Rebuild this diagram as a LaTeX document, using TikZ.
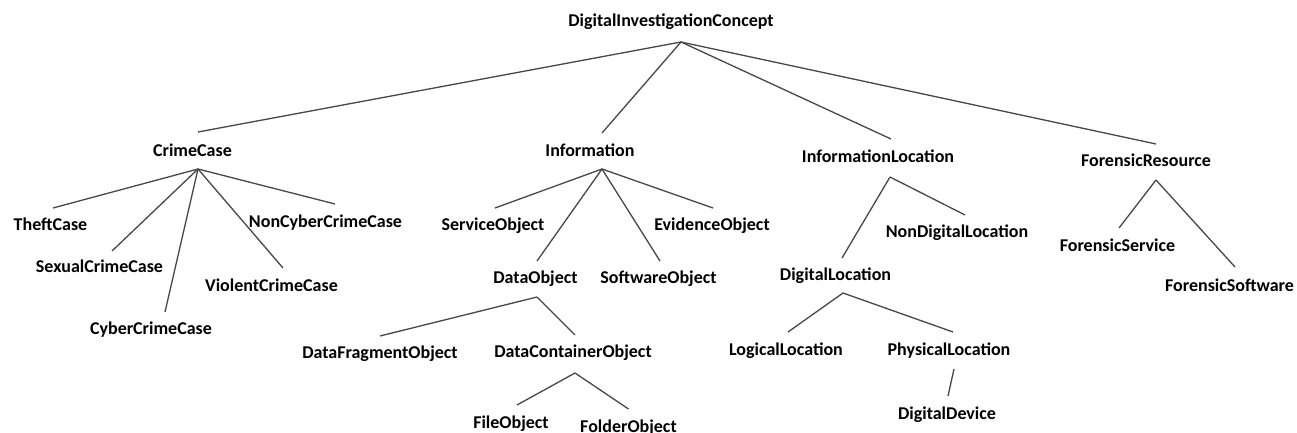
\documentclass[tikz,border=0pt]{standalone}
\usepackage{fontspec}
\setmainfont{Carlito}
\begin{document}
\begin{tikzpicture}[x=1pt,y=-1pt,
  lbl/.style={inner sep=0pt,text height=12pt,text depth=4pt,font=\fontsize{18}{20}\selectfont\bfseries},
  edge/.style={draw=black!72,line width=1.3pt}]
\useasboundingbox (0,0) rectangle (1297,433);
% nodes
\node[lbl] (root) at (671,23) {DigitalInvestigationConcept};
\node[lbl] (crime) at (192.5,152) {CrimeCase};
\node[lbl] (info) at (590,152) {Information};
\node[lbl] (infoloc) at (878,158) {InformationLocation};
\node[lbl] (forres) at (1146,162) {ForensicResource};
\node[lbl] (theft) at (50.5,226) {TheftCase};
\node[lbl] (sexual) at (99.5,268) {SexualCrimeCase};
\node[lbl] (cyber) at (151,330) {CyberCrimeCase};
\node[lbl] (violent) at (271.5,287) {ViolentCrimeCase};
\node[lbl] (noncyber) at (325.5,223) {NonCyberCrimeCase};
\node[lbl] (service) at (493,226) {ServiceObject};
\node[lbl] (dataobj) at (535.5,279) {DataObject};
\node[lbl] (software) at (658.5,279) {SoftwareObject};
\node[lbl] (evidence) at (712,226) {EvidenceObject};
\node[lbl] (frag) at (380,354) {DataFragmentObject};
\node[lbl] (container) at (573,353) {DataContainerObject};
\node[lbl] (file) at (511,424) {FileObject};
\node[lbl] (folder) at (628.5,428) {FolderObject};
\node[lbl] (nondig) at (957,233) {NonDigitalLocation};
\node[lbl] (digloc) at (835.5,276) {DigitalLocation};
\node[lbl] (logical) at (786,351) {LogicalLocation};
\node[lbl] (physical) at (949,351) {PhysicalLocation};
\node[lbl] (device) at (947,415) {DigitalDevice};
\node[lbl] (fservice) at (1117.5,247) {ForensicService};
\node[lbl] (fsoftware) at (1229.5,287) {ForensicSoftware};
% root
\draw[edge] ([shift={(10,19)}]root.center) -- ([shift={(5.5,-20)}]crime.center);
\draw[edge] ([shift={(10,19)}]root.center) -- ([shift={(12,-19)}]info.center);
\draw[edge] ([shift={(10,19)}]root.center) -- ([shift={(13,-19)}]infoloc.center);
\draw[edge] ([shift={(10,19)}]root.center) -- ([shift={(10,-18)}]forres.center);
% crime case
\draw[edge] ([shift={(5.5,17)}]crime.center) -- ([shift={(2.5,-18)}]theft.center);
\draw[edge] ([shift={(5.5,17)}]crime.center) -- ([shift={(12.5,-17)}]sexual.center);
\draw[edge] ([shift={(5.5,17)}]crime.center) -- ([shift={(14,-18)}]cyber.center);
\draw[edge] ([shift={(5.5,17)}]crime.center) -- ([shift={(11.5,-19)}]violent.center);
\draw[edge] ([shift={(5.5,17)}]crime.center) -- ([shift={(9.5,-19)}]noncyber.center);
% information
\draw[edge] ([shift={(12,17)}]info.center) -- ([shift={(2,-18)}]service.center);
\draw[edge] ([shift={(12,17)}]info.center) -- ([shift={(1.5,-18)}]dataobj.center);
\draw[edge] ([shift={(12,17)}]info.center) -- ([shift={(1.5,-18)}]software.center);
\draw[edge] ([shift={(12,17)}]info.center) -- ([shift={(1,-18)}]evidence.center);
\draw[edge] ([shift={(1.5,18)}]dataobj.center) -- ([shift={(0,-18)}]frag.center);
\draw[edge] ([shift={(1.5,18)}]dataobj.center) -- ([shift={(2,-18)}]container.center);
\draw[edge] ([shift={(2,20)}]container.center) -- ([shift={(6,-19)}]file.center);
\draw[edge] ([shift={(2,20)}]container.center) -- ([shift={(0,-19)}]folder.center);
% information location
\draw[edge] ([shift={(12,19)}]infoloc.center) -- ([shift={(8,-18)}]nondig.center);
\draw[edge] ([shift={(12,19)}]infoloc.center) -- ([shift={(6.5,-18)}]digloc.center);
\draw[edge] ([shift={(7.5,17)}]digloc.center) -- ([shift={(2,-19)}]logical.center);
\draw[edge] ([shift={(7.5,17)}]digloc.center) -- ([shift={(4,-19)}]physical.center);
\draw[edge] ([shift={(5,18)}]physical.center) -- ([shift={(1,-19)}]device.center);
% forensic resource
\draw[edge] ([shift={(10,18)}]forres.center) -- ([shift={(1.5,-19)}]fservice.center);
\draw[edge] ([shift={(10,18)}]forres.center) -- ([shift={(5.5,-20)}]fsoftware.center);
\end{tikzpicture}
\end{document}
